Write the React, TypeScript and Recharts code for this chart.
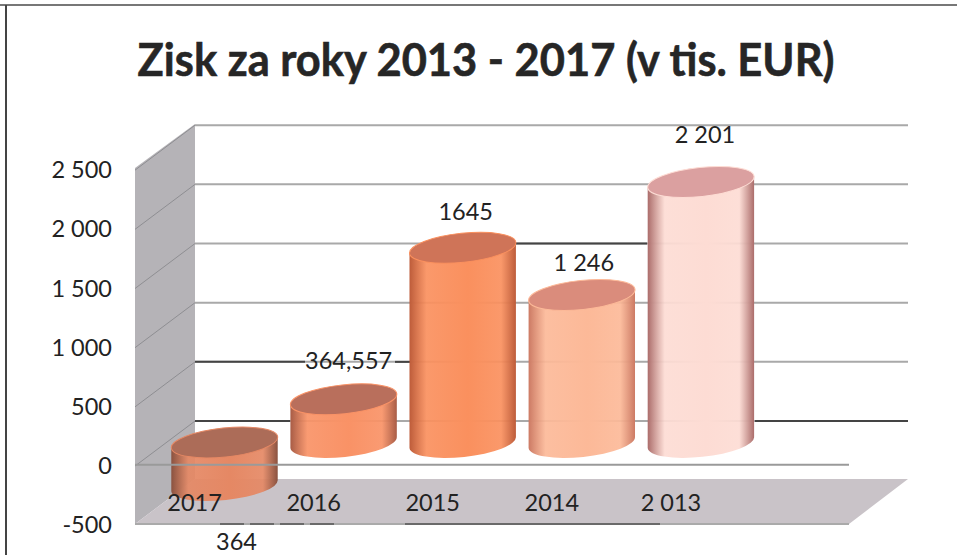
import { Bar, BarChart, LabelList, ReferenceLine, XAxis, YAxis } from "recharts";

const CATEGORIES = ["2017", "2016", "2015", "2014", "2 013"];
const VALUES = [-364, 364.557, 1645, 1246, 2201];
const BAR_LABELS = ["364", "364,557", "1645", "1 246", "2 201"];
const Y_TICKS = [-500, 0, 500, 1000, 1500, 2000, 2500];
const BACK_GRID = [0, 500, 1000, 1500, 2000, 2500];

const chartData = CATEGORIES.map((category, i) => ({
  category,
  value: VALUES[i],
  label: BAR_LABELS[i],
}));

// one colour set per cylinder: edge, centre, cap
const CYLINDERS = [
  { edge: "#8a5240", mid: "#e58864", cap: "#ac6c58" },
  { edge: "#a85c46", mid: "#f99266", cap: "#b96f5c" },
  { edge: "#bd5c3a", mid: "#fa905e", cap: "#cf7458" },
  { edge: "#cc7a64", mid: "#fcb998", cap: "#da8c7c" },
  { edge: "#ab6c6a", mid: "#fddcd4", cap: "#dba0a0" },
];

// label shift from the cylinder centre / end
const LABEL_SHIFT = [
  { dx: 12, dy: 55 },
  { dx: 5, dy: -39 },
  { dx: 3, dy: -37 },
  { dx: 2, dy: -33 },
  { dx: 4, dy: -48 },
];

// 3D frame
const LEFT = 135;
const RIGHT = 908;
const TOP = 124;
const BOTTOM = 524;
const DEPTH_X = 60;
const DEPTH_Y = 45;

// scan makes parts of some back lines look darker
const DARK_RUNS: Record<number, number[][]> = {
  0: [[195, 290], [755, 908]],
  500: [[195, 305], [395, 410]],
  1500: [[515, 647]],
};

const RX = 53.5;
const RY = 14.5;
const TILT = -6;
const TEXT_SIZE = 23.5;

function Cylinder(props: any) {
  const { x, y, width, height, index } = props;
  const cx = x + width / 2;
  const topY = Math.min(y, y + height);
  const bottomY = Math.max(y, y + height);
  const rad = (TILT * Math.PI) / 180;
  const dx = RX * Math.cos(rad);
  const dy = RX * Math.sin(rad);
  const cyl = CYLINDERS[index];
  const body = `M${cx - dx} ${topY - dy} L${cx - dx} ${bottomY - dy} A${RX} ${RY} ${TILT} 0 0 ${cx + dx} ${bottomY + dy} L${cx + dx} ${topY + dy} Z`;
  return (
    <g>
      <path d={body} fill={`url(#cyl${index})`} />
      <ellipse
        cx={cx}
        cy={topY}
        rx={RX}
        ry={RY}
        fill={cyl.cap}
        stroke={cyl.mid}
        strokeWidth={1}
        transform={`rotate(${TILT} ${cx} ${topY})`}
      />
    </g>
  );
}

function BarLabel(props: any) {
  const { x, y, width, height, value, index } = props;
  const shift = LABEL_SHIFT[index];
  const anchorY =
    VALUES[index] < 0 ? Math.max(y, y + height) : Math.min(y, y + height);
  return (
    <text
      x={x + width / 2 + shift.dx}
      y={anchorY + shift.dy}
      textAnchor="middle"
      dominantBaseline="central"
      fontFamily="Lato"
      fontSize={TEXT_SIZE}
      fill="#222"
    >
      {value}
    </text>
  );
}

function BackGridLine(props: any) {
  const { x1, x2, y1, value } = props;
  const runs = DARK_RUNS[value] ?? [];
  return (
    <g>
      <line
        x1={x1 + DEPTH_X}
        x2={x2}
        y1={y1}
        y2={y1}
        stroke="#a9a9a9"
        strokeWidth={2}
      />
      <line
        x1={x1 + DEPTH_X}
        x2={x1}
        y1={y1}
        y2={y1 + DEPTH_Y}
        stroke="#8e8e92"
        strokeWidth={1}
      />
      {runs.map((r) => (
        <line
          key={r[0]}
          x1={r[0]}
          x2={r[1]}
          y1={y1}
          y2={y1}
          stroke="#444"
          strokeWidth={2}
        />
      ))}
    </g>
  );
}

function ZeroLine(props: any) {
  const { x1, x2, y1 } = props;
  return (
    <line
      x1={x1}
      x2={x2 - DEPTH_X + 1}
      y1={y1}
      y2={y1}
      stroke="#9a9a9a"
      strokeWidth={2}
    />
  );
}

function CategoryTick(props: any) {
  const { x, payload } = props;
  return (
    <text
      x={x - 30}
      y={502}
      textAnchor="middle"
      dominantBaseline="central"
      fontFamily="Lato"
      fontSize={TEXT_SIZE}
      fill="#222"
    >
      {payload.value}
    </text>
  );
}

export default function App() {
  return (
    <div style={{ position: "absolute", left: 0, top: 0, width: 957, height: 555, background: "#fff" }}>
      <BarChart
        width={957}
        height={555}
        data={chartData}
        barSize={107}
        margin={{ top: TOP, right: 957 - RIGHT, bottom: 1, left: 0 }}
      >
        <defs>
          {CYLINDERS.map((c, i) => (
            <linearGradient key={c.edge} id={`cyl${i}`} x1="0" y1="0" x2="1" y2="0">
              <stop offset="0%" stopColor={c.edge} />
              <stop offset="16%" stopColor={c.mid} stopOpacity={0.92} />
              <stop offset="55%" stopColor={c.mid} />
              <stop offset="86%" stopColor={c.mid} stopOpacity={0.92} />
              <stop offset="100%" stopColor={c.edge} />
            </linearGradient>
          ))}
        </defs>

        {/* page frame and title */}
        <line x1={0} x2={957} y1={5} y2={5} stroke="#777" strokeWidth={2} />
        <line x1={6} x2={6} y1={5} y2={555} stroke="#444" strokeWidth={2} />
        <text
          x={486}
          y={58}
          textAnchor="middle"
          dominantBaseline="central"
          fontFamily="Lato"
          fontWeight={700}
          fontSize={46}
          fill="#262626"
          stroke="#262626"
          strokeWidth={0.6}
          textLength={697}
          lengthAdjust="spacingAndGlyphs"
        >
          Zisk za roky 2013 - 2017 (v tis. EUR)
        </text>

        {/* side wall and floor */}
        <polygon
          points={`${LEFT},${TOP + DEPTH_Y - 1} ${LEFT + DEPTH_X},${TOP} ${LEFT + DEPTH_X},${BOTTOM - DEPTH_Y} ${LEFT},${BOTTOM}`}
          fill="#b5b3b7"
        />
        <polygon
          points={`${LEFT},${BOTTOM} ${LEFT + DEPTH_X},${BOTTOM - DEPTH_Y} ${RIGHT},${BOTTOM - DEPTH_Y} ${RIGHT - DEPTH_X + 1},${BOTTOM}`}
          fill="#c9c3c8"
        />
        <line x1={LEFT} x2={RIGHT - DEPTH_X + 1} y1={BOTTOM} y2={BOTTOM} stroke="#aaa" strokeWidth={2} />
        <line x1={220} x2={340} y1={BOTTOM} y2={BOTTOM} stroke="#555" strokeWidth={1.5} strokeDasharray="24 6" />
        <line x1={405} x2={660} y1={BOTTOM} y2={BOTTOM} stroke="#555" strokeWidth={1.5} />

        <XAxis
          dataKey="category"
          axisLine={false}
          tickLine={false}
          height={30}
          padding={{ left: 30, right: 147.5 }}
          tick={CategoryTick}
          interval={0}
        />
        <YAxis
          yAxisId="front"
          width={LEFT}
          domain={[-500, 2880]}
          allowDataOverflow
          ticks={Y_TICKS}
          axisLine={false}
          tickLine={false}
          tickSize={0}
          tickMargin={23}
          interval={0}
          tickFormatter={(v: number) =>
            String(v).replace(/(\d)(\d{3})$/, "$1 $2")
          }
          tick={{ fontFamily: "Lato", fontSize: TEXT_SIZE, fill: "#222", dy: 1 }}
        />
        {/* same scale as the front axis, shifted to the bar plane and the back wall */}
        <YAxis yAxisId="bars" hide width={0} domain={[-689, 2691]} allowDataOverflow />
        <YAxis yAxisId="back" hide width={0} domain={[-870, 2510]} allowDataOverflow />

        {BACK_GRID.map((v) => (
          <ReferenceLine
            key={v}
            yAxisId="back"
            y={v}
            zIndex={100}
            shape={(p: any) => <BackGridLine {...p} value={v} />}
          />
        ))}

        <Bar
          yAxisId="bars"
          dataKey="value"
          shape={Cylinder}
          isAnimationActive={false}
        >
          <LabelList dataKey="label" content={BarLabel} />
        </Bar>
        <ReferenceLine yAxisId="front" y={0} shape={ZeroLine} />
      </BarChart>
    </div>
  );
}
